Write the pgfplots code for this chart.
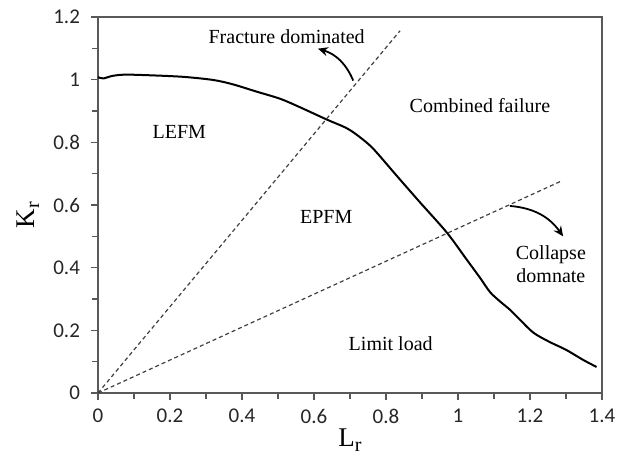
\documentclass[border=0pt]{standalone}
\usepackage{fontspec}
\setmainfont{Liberation Serif}
\newfontfamily\tickfont{Carlito}
\usepackage{pgfplots}
\pgfplotsset{compat=1.18}
\usetikzlibrary{arrows.meta}
\definecolor{axgray}{HTML}{595959}
\definecolor{dashgray}{HTML}{404040}
\begin{document}
\begin{tikzpicture}
\begin{axis}[
  scale only axis, width=252pt, height=188pt,
  xmin=0, xmax=1.4, ymin=0, ymax=1.2,
  xtick={0,0.2,0.4,0.6,0.8,1,1.2,1.4},
  ytick={0,0.2,0.4,0.6,0.8,1,1.2},
  minor tick num=1,
  tick align=outside, tick pos=left,
  major tick length=3.5pt, minor tick length=3pt,
  axis line style={axgray, line width=0.8pt},
  every tick/.style={axgray, line width=0.8pt},
  /pgf/number format/assume math mode=true,
  ticklabel style={font=\tickfont\fontsize{10.5}{12}\selectfont, text=black!85},
  yticklabel style={xshift=-2pt},
  xticklabel style={yshift=-1pt},
  xlabel={L\raisebox{-0.35ex}{\fontsize{10}{10}\selectfont r}},
  ylabel={K\raisebox{-0.35ex}{\fontsize{10}{10}\selectfont r}},
  label style={font=\fontsize{13.5}{15}\selectfont},
  x label style={at={(axis description cs:0.5,0)}, anchor=center, yshift=-23.5pt},
  y label style={at={(axis description cs:0,0.473)}, anchor=center, yshift=35pt},
  clip=false,
]
% failure assessment curve
\addplot[black, line width=1pt, smooth, tension=0.5] coordinates {
(0,1.008) (0.015,1.004) (0.04,1.012) (0.075,1.016) (0.144,1.014) (0.237,1.009)
(0.32,0.999) (0.375,0.985) (0.44,0.962) (0.506,0.939) (0.561,0.912) (0.635,0.873)
(0.691,0.845) (0.728,0.816) (0.765,0.779) (0.83,0.693) (0.894,0.609) (0.969,0.512)
(1.024,0.426) (1.061,0.368) (1.089,0.322) (1.117,0.292) (1.144,0.266)
(1.172,0.234) (1.21,0.192) (1.256,0.162) (1.30,0.138) (1.347,0.106) (1.385,0.083)
};
% dashed boundary lines
\addplot[dashgray, line width=0.6pt, dash pattern=on 2pt off 1.5pt] coordinates {(0,0) (0.839,1.156)};
\addplot[dashgray, line width=0.6pt, dash pattern=on 2pt off 1.5pt] coordinates {(0,0) (1.288,0.677)};
% annotations
\node[font=\fontsize{10}{12}\selectfont] at (axis cs:0.524,1.138) {Fracture dominated};
\node[font=\fontsize{10}{12}\selectfont] at (axis cs:1.061,0.917) {Combined failure};
\node[font=\fontsize{10}{12}\selectfont] at (axis cs:0.226,0.833) {LEFM};
\node[font=\fontsize{10}{12}\selectfont] at (axis cs:0.634,0.561) {EPFM};
\node[font=\fontsize{10}{12}\selectfont] at (axis cs:0.813,0.157) {Limit load};
\node[font=\fontsize{10}{11.5}\selectfont, align=center] at (axis cs:1.258,0.41) {Collapse\\domnate};
\draw[black, line width=0.9pt, -{Stealth[length=5pt,width=4.5pt]}] (axis cs:0.709,0.997) to[bend right=25] (axis cs:0.611,1.099);
\draw[black, line width=0.9pt, -{Stealth[length=5pt,width=4.5pt]}] (axis cs:1.144,0.597) to[bend left=25] (axis cs:1.292,0.50);
\end{axis}
\pgfresetboundingbox
\path ([shift={(-49pt,-31pt)}]current axis.south west) rectangle ([shift={(11.5pt,8.5pt)}]current axis.north east);
\end{tikzpicture}
\end{document}
